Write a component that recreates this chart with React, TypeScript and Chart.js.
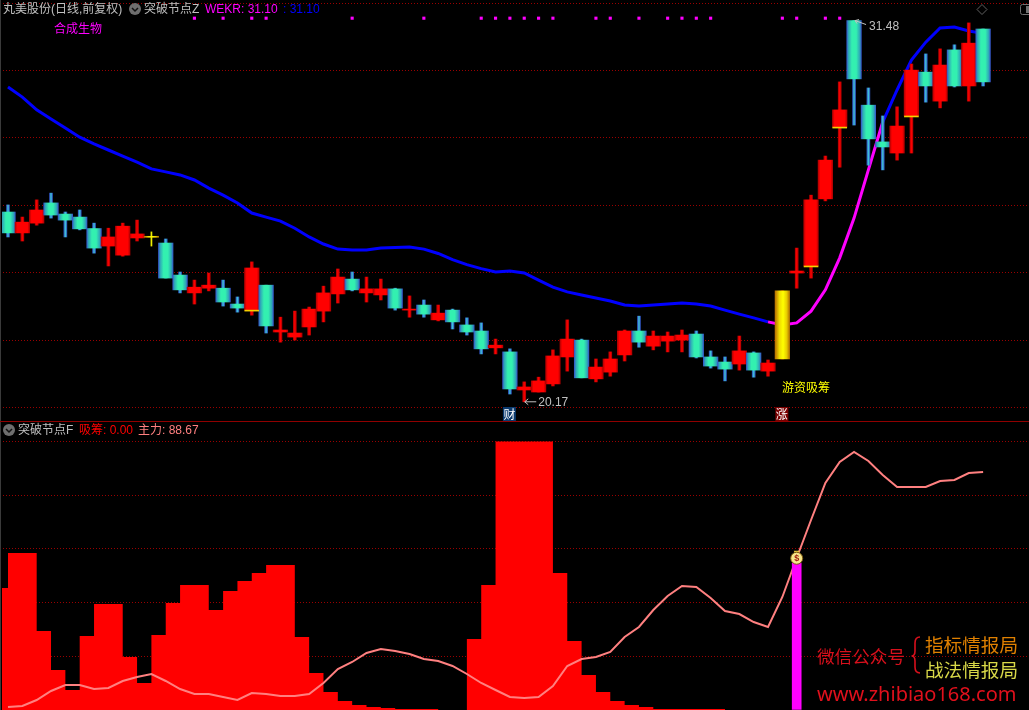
import React, { useEffect, useRef } from "react";
import { Chart, registerables } from "chart.js";

Chart.register(...registerables);

// ---------- upper pane: daily candles ----------
const opens = [25.80,25.18,25.47,26.07,25.74,25.65,25.31,24.79,24.52,25.03,25.05,24.88,23.93,23.40,23.54,23.54,23.07,22.89,23.63,22.24,22.09,22.39,22.86,23.37,23.81,23.40,23.34,23.52,22.89,23.04,22.60,22.89,22.45,22.27,21.77,21.65,20.52,20.46,20.70,21.50,22.00,20.85,21.05,21.56,22.27,21.82,21.97,22.00,22.18,21.50,21.35,21.29,21.62,21.08,21.44,23.99,24.20,26.19,28.32,31.48,28.97,27.88,27.55,28.65,29.95,29.09,30.61,29.54,31.23];
const closes = [25.18,25.50,25.86,25.71,25.56,25.30,24.73,25.06,25.38,25.15,25.05,23.84,23.49,23.57,23.63,23.13,22.95,24.14,22.42,22.30,22.21,22.92,23.40,23.87,23.49,23.52,23.52,22.95,22.92,22.77,22.80,22.54,22.24,21.74,21.85,20.55,20.61,20.79,21.53,22.03,20.88,21.20,21.44,22.27,21.94,22.12,22.12,22.15,21.50,21.23,21.14,21.68,21.11,21.32,23.46,24.05,26.16,27.34,28.83,29.75,27.97,27.73,28.35,30.01,29.54,30.16,29.54,30.81,29.66];
const highs = [26.01,25.65,26.16,26.36,25.80,25.86,25.47,25.32,25.47,25.56,25.21,25.00,24.02,23.78,23.99,23.78,23.28,24.32,23.63,22.68,22.86,22.98,23.60,24.11,24.02,23.87,23.81,23.54,23.31,23.19,23.04,22.92,22.66,22.51,22.03,21.74,20.76,20.90,21.71,22.60,22.03,21.44,21.65,22.30,22.71,22.27,22.24,22.30,22.27,21.68,21.50,22.12,21.65,21.41,23.46,24.73,26.30,27.46,29.66,31.48,29.48,28.65,28.92,30.19,30.49,30.64,30.76,31.41,31.23];
const lows = [25.06,24.94,25.41,25.62,25.06,25.27,24.58,24.20,24.49,24.94,24.79,23.84,23.40,23.07,23.46,23.01,22.83,22.74,22.21,21.94,22.00,22.15,22.54,23.10,23.46,23.13,23.19,22.89,22.68,22.68,22.57,22.33,22.15,21.59,21.59,20.40,20.17,20.46,20.64,21.08,20.88,20.76,20.93,21.38,21.79,21.71,21.65,21.65,21.47,21.17,20.79,21.11,20.90,20.93,21.44,23.54,23.84,26.13,27.13,28.38,27.19,27.05,27.34,27.55,29.06,28.89,29.51,29.09,29.54];
const wekr = [29.51,29.21,28.83,28.56,28.29,28.02,27.82,27.64,27.46,27.28,27.08,26.99,26.90,26.75,26.51,26.30,26.07,25.77,25.65,25.53,25.32,25.06,24.85,24.70,24.67,24.67,24.73,24.75,24.76,24.70,24.57,24.39,24.24,24.12,24.02,24.05,23.99,23.78,23.57,23.43,23.34,23.25,23.16,23.04,23.01,23.04,23.07,23.10,23.07,23.01,22.89,22.77,22.66,22.54,22.45,22.51,22.86,23.49,24.44,25.62,27.05,28.47,29.42,30.31,30.84,31.26,31.29,31.17,31.10];
const signalDays = [13,15,17,18,24,29,33,34,35,36,37,38,41,42,44,46,47,48,49,54,55,57,58];
const signalLevel = 31.55;
const baseMarkDays = [17,56,58,63];
const dojiDay = 10;
const goldDay = 54;
const lowDay = 36;
const highDay = 59;
const lowLabel = "20.17";
const highLabel = "31.48";
const priceGrid = { min: 19.6, max: 32.09, step: 2 };

// ---------- lower pane: 吸筹 histogram and 主力 line ----------
const xichouDays = [-1,0,1,2,3,4,5,6,7,8,9,10,11,12,13,14,15,16,17,18,19,20,21,22,23,24,25,26,27,28,29,30,31,32,33,34,35,36,37,38,39,40,41,42,43,44,45,46,47,48,49,50];
const xichou = [45.44,58.47,58.47,29.42,14.90,7.45,27.56,39.48,39.48,19.74,10.06,27.93,39.85,46.55,46.55,37.24,44.32,48.04,51.02,54.0,54.0,27.19,13.78,6.70,3.35,1.86,1.12,0.74,0.37,0.37,0.37,0,0,26.44,46.55,100,100,100,100,51.02,25.70,13.04,6.70,3.35,1.86,1.12,0.37,0.37,0.37,0.37,0.37,0];
const zhuli = [1.12,1.49,3.72,7.08,9.31,9.31,7.82,8.19,10.8,12.29,13.41,10.8,7.82,5.96,5.96,4.84,3.72,6.33,5.96,5.21,5.21,5.96,10.06,15.27,17.88,21.23,22.72,21.97,20.86,18.99,18.25,16.39,13.41,10.06,7.45,4.84,4.47,4.84,8.94,16.39,18.99,19.74,21.6,27.19,30.91,37.24,42.46,46.18,45.81,41.71,36.87,35.75,32.77,30.91,42.09,56.61,70.76,84.54,92.36,96.09,92.74,87.52,83.05,83.05,83.05,85.29,85.66,88.27,88.67];
const stickDays = [55];
const stickValues = [54.7];
const coinValue = 56.7;
const lowerScale = { min: 0, max: 107.26, step: 20 };

const xRange = { min: -0.558, max: 71.2 };
const GRID = "#9a0000";
const LATIN = '"Liberation Sans","Noto Sans CJK SC",sans-serif';
const CJK = '"Noto Sans CJK SC","Liberation Sans",sans-serif';

const TEAL_BODY: [number, string][] = [[0,"#3558c8"],[0.12,"#2fa8b8"],[0.35,"#33f0b0"],[0.65,"#33f0b0"],[0.88,"#2fa8b8"],[1,"#3558c8"]];
const RED_BODY: [number, string][] = [[0,"#b00000"],[0.15,"#ff0000"],[0.85,"#ff0000"],[1,"#b00000"]];
const GOLD_BODY: [number, string][] = [[0,"#b87000"],[0.3,"#f0dc00"],[0.55,"#ffff00"],[0.8,"#e8cc00"],[1,"#b07000"]];
const TEAL_WICK: [number, string][] = [[0,"#2f55c0"],[0.5,"#40c8d8"],[1,"#2f55c0"]];
const RED_WICK: [number, string][] = [[0,"#b00000"],[0.5,"#ff0000"],[1,"#b00000"]];
const YELLOW_WICK: [number, string][] = [[0,"#000000"],[0.5,"#ffff00"],[1,"#000000"]];

function barGradient(width: number, pick: (i: number) => [number, string][]) {
  return (ctx: any) => {
    if (ctx.type !== "data" || !ctx.raw || !ctx.chart.scales.x) return "#000";
    const x = ctx.chart.scales.x.getPixelForValue(ctx.raw.x);
    if (!Number.isFinite(x)) return "#000";
    const g = ctx.chart.ctx.createLinearGradient(x - width / 2, 0, x + width / 2, 0);
    pick(ctx.dataIndex).forEach(([s, c]) => g.addColorStop(s, c));
    return g;
  };
}

const bodyStops = (i: number) => (i === goldDay || i === dojiDay ? GOLD_BODY : closes[i] >= opens[i] ? RED_BODY : TEAL_BODY);
const wickStops = (i: number) => (i === dojiDay ? YELLOW_WICK : closes[i] >= opens[i] ? RED_WICK : TEAL_WICK);

function drawArrowIcon(c: CanvasRenderingContext2D, x: number, y: number) {
  c.fillStyle = "#6e6e6e";
  c.beginPath();
  c.arc(x, y, 6, 0, Math.PI * 2);
  c.fill();
  c.strokeStyle = "#111";
  c.lineWidth = 1.5;
  c.beginPath();
  c.moveTo(x - 3, y - 1);
  c.lineTo(x, y + 2);
  c.lineTo(x + 3, y - 1);
  c.stroke();
}

function leftEdge(c: CanvasRenderingContext2D, h: number) {
  c.fillStyle = "#000";
  c.fillRect(0, 0, 2, h);
  c.fillStyle = "#3a3a3a";
  c.fillRect(0, 0, 1, h);
}

function tag(c: CanvasRenderingContext2D, text: string, cx: number, top: number, bg: string) {
  c.fillStyle = bg;
  c.fillRect(cx - 6.5, top, 13, 14);
  c.fillStyle = "#ffffff";
  c.font = `12px ${CJK}`;
  c.textAlign = "center";
  c.textBaseline = "middle";
  c.fillText(text, cx, top + 7);
  c.textAlign = "left";
}

const upperOverlay = {
  id: "upperOverlay",
  afterDraw(chart: any) {
    const c: CanvasRenderingContext2D = chart.ctx;
    const { x, y } = chart.scales;
    c.save();
    leftEdge(c, 421);
    c.textBaseline = "middle";
    c.textAlign = "left";

    // low marker
    const lx = x.getPixelForValue(lowDay);
    const ly = y.getPixelForValue(lows[lowDay]);
    c.strokeStyle = "#c0c0c0";
    c.lineWidth = 1;
    c.beginPath();
    c.moveTo(lx + 0.5, ly);
    c.lineTo(lx + 12, ly);
    c.moveTo(lx + 4, ly - 3);
    c.lineTo(lx + 0.5, ly);
    c.lineTo(lx + 4, ly + 3);
    c.stroke();
    c.fillStyle = "#c0c0c0";
    c.font = `12px ${LATIN}`;
    c.fillText(lowLabel, lx + 14, ly + 1);

    // high marker
    const hx = x.getPixelForValue(highDay);
    const hy = y.getPixelForValue(highs[highDay]);
    c.beginPath();
    c.moveTo(hx + 1, hy);
    c.lineTo(hx + 12, hy + 4);
    c.moveTo(hx + 5, hy - 1);
    c.lineTo(hx + 1, hy);
    c.lineTo(hx + 3, hy + 3);
    c.stroke();
    c.fillText(highLabel, hx + 15, hy + 6);

    // event tags
    tag(c, "财", x.getPixelForValue(lowDay - 1) - 0.5, 407, "#0b3a6e");
    tag(c, "涨", x.getPixelForValue(goldDay) - 0.5, 407, "#7a0000");
    c.fillStyle = "#ffff00";
    c.font = `12px ${CJK}`;
    c.fillText("游资吸筹", 782, 387);
    c.fillStyle = "#ff00ff";
    c.fillText("合成生物", 54, 28);

    // header icons
    drawArrowIcon(c, 135, 9);
    c.strokeStyle = "#606060";
    c.lineWidth = 1;
    c.beginPath();
    c.moveTo(987, 9.5);
    c.lineTo(982, 4.5);
    c.lineTo(977, 9.5);
    c.lineTo(982, 14.5);
    c.closePath();
    c.stroke();
    c.strokeStyle = "#707070";
    c.beginPath();
    c.roundRect(1020.5, 4.5, 14, 10, 2);
    c.stroke();
    c.fillStyle = "#707070";
    c.fillRect(1026, 6, 3, 7);
    c.restore();
  },
};

const lowerOverlay = {
  id: "lowerOverlay",
  afterDraw(chart: any) {
    const c: CanvasRenderingContext2D = chart.ctx;
    const { x, y } = chart.scales;
    c.save();
    leftEdge(c, 288);
    drawArrowIcon(c, 9, 8);

    // money-bag marker on the stick
    const cx = x.getPixelForValue(stickDays[0]);
    const cy = y.getPixelForValue(coinValue);
    c.fillStyle = "#e8c840";
    c.beginPath();
    c.moveTo(cx - 3, cy - 7);
    c.lineTo(cx + 3, cy - 7);
    c.lineTo(cx + 1.5, cy - 4);
    c.lineTo(cx - 1.5, cy - 4);
    c.closePath();
    c.fill();
    c.fillStyle = "#f6e58a";
    c.strokeStyle = "#7a5a10";
    c.lineWidth = 1;
    c.beginPath();
    c.arc(cx, cy + 0.5, 6, 0, Math.PI * 2);
    c.fill();
    c.stroke();
    c.fillStyle = "#a02010";
    c.font = `bold 9px ${LATIN}`;
    c.textAlign = "center";
    c.textBaseline = "middle";
    c.fillText("$", cx, cy + 1);

    // brace of the watermark
    c.strokeStyle = "#d8101c";
    c.lineWidth = 1.6;
    c.beginPath();
    c.moveTo(920, 215);
    c.quadraticCurveTo(915, 215, 915, 221);
    c.lineTo(915, 229);
    c.quadraticCurveTo(915, 234, 911.5, 234);
    c.quadraticCurveTo(915, 234, 915, 239);
    c.lineTo(915, 245);
    c.quadraticCurveTo(915, 251, 920, 251);
    c.stroke();
    c.restore();
  },
};

function baseOptions(grid: { min: number; max: number; step: number }) {
  return {
    responsive: false,
    animation: false as const,
    devicePixelRatio: 1,
    layout: { padding: 0, autoPadding: false },
    plugins: { legend: { display: false }, tooltip: { enabled: false } },
    events: [] as any[],
    scales: {
      x: { type: "linear" as const, display: false, offset: false, min: xRange.min, max: xRange.max, grid: { display: false } },
      y: {
        type: "linear" as const,
        position: "left" as const,
        min: grid.min,
        max: grid.max,
        afterFit: (s: any) => { s.width = 0; },
        ticks: { display: false, stepSize: grid.step, includeBounds: false },
        border: { display: false, dash: [1, 2] },
        grid: { color: GRID, lineWidth: 1, drawTicks: false },
      },
    },
  };
}

export default function App() {
  const upperRef = useRef<HTMLCanvasElement>(null);
  const lowerRef = useRef<HTMLCanvasElement>(null);

  useEffect(() => {
    document.body.style.margin = "0";
    document.body.style.background = "#000";
    document.body.style.overflow = "hidden";

    const idx = opens.map((_, i) => i);
    const upper = new Chart(upperRef.current!, {
      type: "bar",
      plugins: [upperOverlay],
      data: {
        datasets: [
          {
            type: "line",
            label: "WEKR",
            data: idx.map((i) => ({ x: i, y: wekr[i] })),
            borderColor: "#0000ff",
            borderWidth: 3,
            pointRadius: 0,
            tension: 0,
            order: 10,
            segment: {
              borderColor: (s: any) => (s.p0DataIndex >= 53 && s.p0DataIndex < 61 ? "#ff00ff" : "#0000ff"),
            },
          },
          {
            type: "bar",
            label: "wick",
            data: idx.map((i) => ({ x: i, y: [lows[i], highs[i]] })),
            grouped: false,
            barThickness: 3,
            borderWidth: 0,
            backgroundColor: barGradient(3, wickStops),
            order: 5,
          },
          {
            type: "bar",
            label: "body",
            data: idx.map((i) => ({ x: i, y: [Math.min(opens[i], closes[i]), Math.max(opens[i], closes[i])] })),
            grouped: false,
            barThickness: 14.6,
            minBarLength: 1,
            borderWidth: 0,
            backgroundColor: barGradient(14.6, bodyStops),
            order: 3,
          },
          {
            type: "bar",
            label: "base",
            data: baseMarkDays.map((i) => ({ x: i, y: [opens[i] - 0.03, opens[i]] })),
            grouped: false,
            barThickness: 14,
            borderWidth: 0,
            backgroundColor: "#f5d000",
            order: 2,
          },
          {
            type: "line",
            label: "signal",
            data: signalDays.map((i) => ({ x: i, y: signalLevel })),
            showLine: false,
            pointStyle: "rect",
            pointRadius: 2.2,
            pointBorderWidth: 0,
            pointBackgroundColor: "#ff00ff",
            order: 1,
          },
        ],
      } as any,
      options: baseOptions(priceGrid) as any,
    });

    const lower = new Chart(lowerRef.current!, {
      type: "bar",
      plugins: [lowerOverlay],
      data: {
        datasets: [
          {
            type: "line",
            label: "吸筹",
            data: xichouDays.map((d, k) => ({ x: d, y: xichou[k] })),
            stepped: true,
            fill: "origin",
            borderWidth: 0,
            borderColor: "#ff0000",
            backgroundColor: "#ff0000",
            pointRadius: 0,
            order: 10,
          },
          {
            type: "line",
            label: "主力",
            data: zhuli.map((v, i) => ({ x: i, y: v })),
            borderColor: "#ff8080",
            borderWidth: 2,
            pointRadius: 0,
            tension: 0,
            order: 5,
          },
          {
            type: "bar",
            label: "stick",
            data: stickDays.map((d, k) => ({ x: d, y: stickValues[k] })),
            grouped: false,
            barThickness: 9,
            borderWidth: 0,
            backgroundColor: "#ff00ff",
            order: 3,
          },
        ],
      } as any,
      options: baseOptions(lowerScale) as any,
    });

    return () => {
      upper.destroy();
      lower.destroy();
    };
  }, []);

  const label = (left: number, top: number, color: string, text: string, size = 12, family = LATIN, extra: React.CSSProperties = {}) => (
    <span
      style={{
        position: "absolute",
        left,
        top,
        color,
        fontSize: size,
        fontFamily: family,
        lineHeight: "18px",
        whiteSpace: "pre",
        ...extra,
      }}
    >
      {text}
    </span>
  );

  return (
    <div style={{ position: "absolute", left: 0, top: 0, width: 1029, height: 710, background: "#000", overflow: "hidden" }}>
      <canvas ref={upperRef} width={1029} height={421} style={{ position: "absolute", left: 0, top: 0, display: "block" }} />
      <div style={{ position: "absolute", left: 0, top: 421, width: 1029, height: 1, background: "#900000" }} />
      <canvas ref={lowerRef} width={1029} height={288} style={{ position: "absolute", left: 0, top: 422, display: "block" }} />

      {label(3, 0, "#c0c0c0", "丸美股份(日线,前复权)", 12)}
      {label(144, 0, "#c0c0c0", "突破节点Z")}
      {label(205, 0, "#ff00ff", "WEKR: 31.10")}
      {label(283, 0, "#0000ff", ": 31.10")}

      {label(18, 421, "#c0c0c0", "突破节点F")}
      {label(79, 421, "#ff0000", "吸筹: 0.00")}
      {label(138, 421, "#ff8080", "主力: 88.67")}

      {label(817, 644, "#d8101c", "微信公众号", 17.6, CJK, { lineHeight: "24px" })}
      {label(925, 632, "#e08000", "指标情报局", 18.6, CJK, { lineHeight: "24px" })}
      {label(925, 657, "#d8d848", "战法情报局", 18.6, CJK, { lineHeight: "24px" })}
      {label(817, 682, "#e0101c", "www.zhibiao168.com", 20, '"Noto Sans",sans-serif', { lineHeight: "24px" })}
    </div>
  );
}
